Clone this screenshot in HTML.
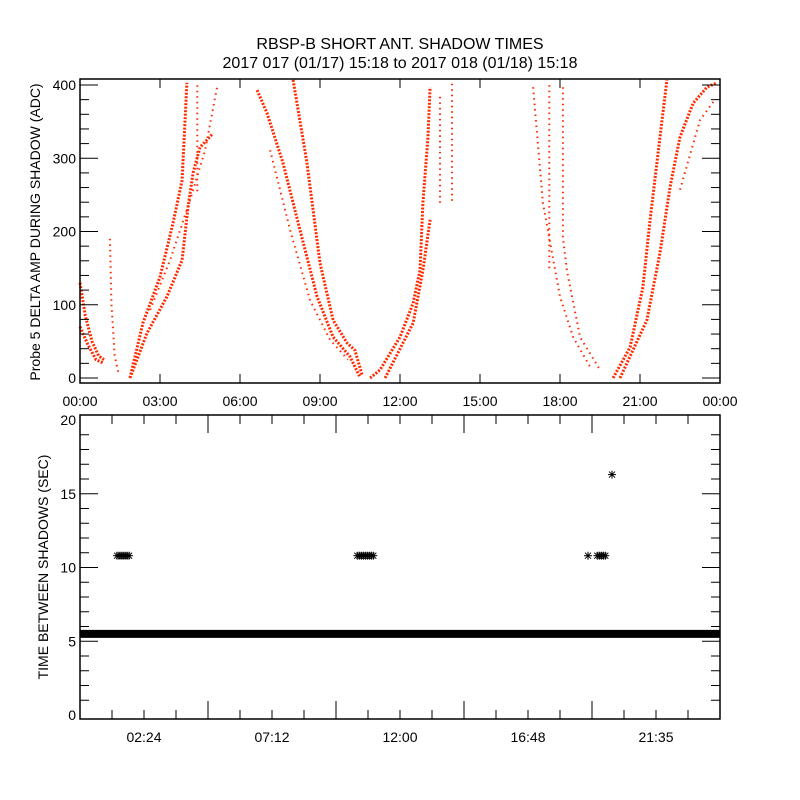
<!DOCTYPE html>
<html><head><meta charset="utf-8"><style>
body{margin:0;background:#fff;}
svg{display:block;font-family:"Liberation Sans",sans-serif;}
text{fill:#000;}
</style></head><body>
<svg id="chart" width="800" height="800" viewBox="0 0 800 800">
<rect width="800" height="800" fill="#fff"/>
<text x="400" y="49" font-size="16" text-anchor="middle">RBSP-B SHORT ANT. SHADOW TIMES</text>
<text x="400" y="68" font-size="16" text-anchor="middle">2017 017 (01/17) 15:18 to 2017 018 (01/18) 15:18</text>
<g id="topPanel"></g>
<g id="botPanel"></g>
</svg>
<script>
// ---- top panel data (hours, ADC) ----
const topTickLabels = ["00:00","03:00","06:00","09:00","12:00","15:00","18:00","21:00","00:00"];
const topYTicks = [0,100,200,300,400];
const trackNames = ["T1","T1b","T2","R1","R2","R3","C1","D1","D2","D3","U1","U2","C2","C3","E1","E2","E3","F1","F2","F3"];
const trackHours = [
 [0,0.2,0.45,0.7,0.9],
 [0,0.3,0.6,0.9],
 [1.12,1.18,1.3,1.45],
 [1.875,2.36,3.0,3.49,3.83,4.01],
 [1.875,2.51,3.26,3.83,4.05,4.24,4.5,4.99],
 [2.63,3.38,4.13,4.69,5.14],
 [4.4,4.4],
 [6.64,7.01,7.61,8.25,8.89,9.49,10.13,10.5],
 [7.99,8.51,9.0,9.49,10.01,10.31,10.58],
 [7.13,7.88,8.63,9.38,10.05],
 [10.88,11.25,12.0,12.49,12.75,12.86,13.05,13.13],
 [11.44,12.49,12.86,13.13],
 [13.5,13.5],
 [13.95,13.95],
 [16.99,17.36,18.0,18.49,19.13],
 [18.11,18.11,18.26,18.75,19.5],
 [17.6,17.6],
 [19.99,20.63,21.11,21.38,21.75,22.01],
 [20.25,21.26,21.75,22.13,22.5,22.99,23.51,23.89],
 [22.5,23.25,23.81]
];
const trackValues = [
 [130,85,50,30,25],
 [70,45,25,20],
 [190,100,30,5],
 [0,75,138,212,270,403],
 [0,61,111,161,233,280,315,334],
 [93,161,243,311,397],
 [255,405],
 [393,362,294,202,111,56,29,1],
 [407,294,157,79,48,38,4],
 [311,202,106,52,25],
 [0,11,56,102,147,239,329,397],
 [0,75,147,216],
 [239,389],
 [242,406],
 [397,239,111,56,15],
 [397,192,147,56,11],
 [150,400],
 [0,42,124,216,329,407],
 [0,79,171,261,329,375,397,403],
 [257,352,380]
];
const trackDense = [1,1,0,1,1,0,0,1,1,0,1,1,0,0,0,0,0,1,1,0];
// ---- bottom panel data ----
const botTickLabels = ["02:24","07:12","12:00","16:48","21:35"];
const botTickHours = [2.4,7.2,12.0,16.8,21.6];
const botYTicks = [0,5,10,15,20];
const baseLevel = 5.5;
const baseStart = 0, baseEnd = 24;
const clusterStart = [1.39,10.4,19.05,19.4,19.95];
const clusterEnd = [1.91,11.0,19.05,19.7,19.95];
const clusterValue = [10.8,10.8,10.8,10.8,16.3];

const NS="http://www.w3.org/2000/svg";
function mk(tag,attrs,parent){const e=document.createElementNS(NS,tag);for(const k in attrs)e.setAttribute(k,attrs[k]);parent.appendChild(e);return e;}

// top axes
const TL=80,TR=720,TT=79,TB=383;
const tx=h=>TL+h*(TR-TL)/24;
const ty=v=>378-v*0.7325;
const topG=document.getElementById('topPanel');
trackHours.forEach((hs,i)=>{
 const pts=hs.map((h,j)=>tx(h).toFixed(1)+','+ty(trackValues[i][j]).toFixed(1)).join(' ');
 const p=mk('polyline',{points:pts,fill:'none',stroke:'#ff2a00','stroke-width':trackDense[i]?3:2,'stroke-dasharray':trackDense[i]?'2 1.5':'1.5 4'},topG);
 
 
});
let fr=mk('rect',{x:TL,y:TT,width:TR-TL,height:TB-TT,fill:'none',stroke:'#000','stroke-width':1.5},topG);


topTickLabels.forEach((l,i)=>{
 const x=tx(i*3);
 mk('line',{x1:x,x2:x,y1:TB,y2:TB-9,stroke:'#000'},topG);
 mk('line',{x1:x,x2:x,y1:TT,y2:TT+9,stroke:'#000'},topG);
 const t=mk('text',{x:x,y:TB+23,'font-size':14,'text-anchor':'middle'},topG);
 t.textContent=l;
 
 
});
for(let v=0;v<=400;v+=20){
 const y=ty(v),len=(v%100===0)?18:9;
 mk('line',{x1:TL,x2:TL+len,y1:y,y2:y,stroke:'#000'},topG);
 mk('line',{x1:TR,x2:TR-len,y1:y,y2:y,stroke:'#000'},topG);
}
topYTicks.forEach(v=>{
 const t=mk('text',{x:TL-4,y:ty(v)+5,'font-size':14,'text-anchor':'end'},topG);
 t.textContent=v;
 
 
});
let yt=mk('text',{x:0,y:0,'font-size':14,'text-anchor':'middle',transform:'translate(40,232) rotate(-90)'},topG);
yt.textContent='Probe 5 DELTA AMP DURING SHADOW (ADC)';



// bottom axes
const BL=80,BR=720,BT=415,BB=719;
const bx=h=>BL+h*(BR-BL)/24;
const by=v=>715-v*14.75;
const botG=document.getElementById('botPanel');
const band=mk('rect',{x:bx(baseStart),y:by(baseLevel)-4,width:bx(baseEnd)-bx(baseStart),height:8,fill:'#000'},botG);


function star(cx,cy,g){
 const r=4;
 mk('line',{x1:cx-r,x2:cx+r,y1:cy,y2:cy,stroke:'#000'},g);
 mk('line',{x1:cx,x2:cx,y1:cy-r,y2:cy+r,stroke:'#000'},g);
 mk('line',{x1:cx-3,x2:cx+3,y1:cy-3,y2:cy+3,stroke:'#000'},g);
 mk('line',{x1:cx-3,x2:cx+3,y1:cy+3,y2:cy-3,stroke:'#000'},g);
}
clusterStart.forEach((s,i)=>{
 const g=mk('g',{},botG);
 
 
 const x0=bx(s),x1=bx(clusterEnd[i]),y=by(clusterValue[i]);
 for(let x=x0;x<=x1+0.1;x+=2)star(x,y,g);
});
fr=mk('rect',{x:BL,y:BT,width:BR-BL,height:BB-BT,fill:'none',stroke:'#000','stroke-width':1.5},botG);


for(let h=1.2;h<24;h+=1.2){
 const x=bx(h),major=Math.abs((h/4.8)-Math.round(h/4.8))<0.01,len=major?18:9;
 mk('line',{x1:x,x2:x,y1:BB,y2:BB-len,stroke:'#000'},botG);
 mk('line',{x1:x,x2:x,y1:BT,y2:BT+len,stroke:'#000'},botG);
}
botTickLabels.forEach((l,i)=>{
 const t=mk('text',{x:bx(botTickHours[i]),y:BB+23,'font-size':14,'text-anchor':'middle'},botG);
 t.textContent=l;
 
 
});
for(let v=1;v<20;v++){
 const y=by(v),len=(v%5===0)?18:9;
 mk('line',{x1:BL,x2:BL+len,y1:y,y2:y,stroke:'#000'},botG);
 mk('line',{x1:BR,x2:BR-len,y1:y,y2:y,stroke:'#000'},botG);
}
botYTicks.forEach(v=>{
 const t=mk('text',{x:BL-4,y:by(v)+5,'font-size':14,'text-anchor':'end'},botG);
 t.textContent=v;
 
 
});
yt=mk('text',{x:0,y:0,'font-size':14,'text-anchor':'middle',transform:'translate(48,567) rotate(-90)'},botG);
yt.textContent='TIME BETWEEN SHADOWS (SEC)';


</script>
</body></html>
